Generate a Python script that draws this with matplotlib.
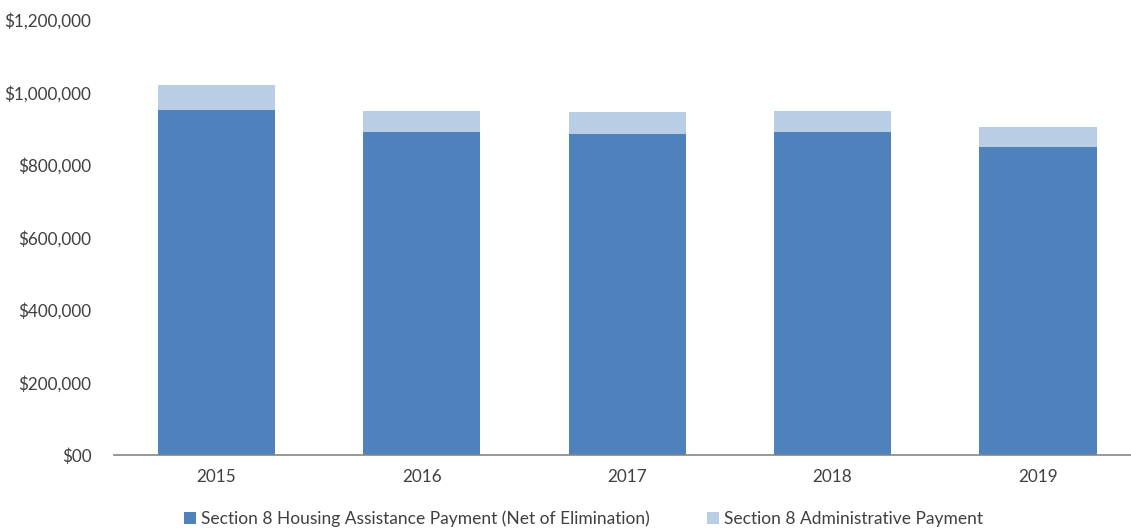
import matplotlib
matplotlib.use("Agg")
import matplotlib.pyplot as plt
import numpy as np

years = ["2015", "2016", "2017", "2018", "2019"]
housing_assistance = [952000, 891000, 886000, 891000, 850000]
administrative = [69000, 58000, 59000, 58000, 56000]
ytick_values = [0, 200000, 400000, 600000, 800000, 1000000, 1200000]
ytick_labels = ["$00", "$200,000", "$400,000", "$600,000", "$800,000",
                "$1,000,000", "$1,200,000"]

plt.rcParams['font.family'] = ['Lato', 'DejaVu Sans']

fig = plt.figure(figsize=(11.31, 5.29), dpi=100)
ax = fig.add_axes([113.7 / 1131, 74 / 529, 1027 / 1131, 435 / 529])

x = np.arange(len(years))
dark = "#4F81BD"
light = "#B9CDE5"
ax.bar(x, housing_assistance, width=0.57, color=dark,
       label="Section 8 Housing Assistance Payment (Net of Elimination)")
ax.bar(x, administrative, width=0.57, bottom=housing_assistance, color=light,
       label="Section 8 Administrative Payment")

ax.set_xlim(-0.5, 4.5)
ax.set_ylim(0, 1200000)
ax.set_yticks(ytick_values)
ax.set_yticklabels(ytick_labels)
ax.set_xticks(x)
ax.set_xticklabels(years)
ax.tick_params(axis="both", length=0, labelsize=12.3, colors="#404040")
ax.tick_params(axis="y", pad=16)
ax.tick_params(axis="x", pad=10)

for side in ["top", "right", "left"]:
    ax.spines[side].set_visible(False)
ax.spines["bottom"].set_color("#868686")
ax.spines["bottom"].set_linewidth(1.2)

fig.legend(loc="center", bbox_to_anchor=(0.516, 10 / 529), ncol=2, frameon=False,
           fontsize=12.5, handlelength=0.7, handleheight=0.7, handletextpad=0.3,
           columnspacing=3.3, labelcolor="#404040")

fig.savefig("out.png", dpi=100)
